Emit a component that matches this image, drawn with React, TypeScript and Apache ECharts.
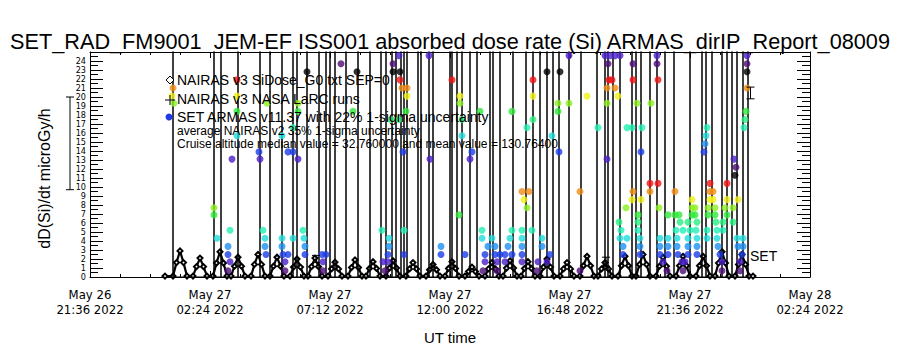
import React, { useEffect, useRef } from "react";
import * as echarts from "echarts";

// ---- axis ticks (hours since May 26 21:36 UT) ----
const xTickHours = [0, 4.8, 9.6, 14.4, 19.2, 24, 28.8];
const xTickLabels = [
  "May 26\n21:36 2022",
  "May 27\n02:24 2022",
  "May 27\n07:12 2022",
  "May 27\n12:00 2022",
  "May 27\n16:48 2022",
  "May 27\n21:36 2022",
  "May 28\n02:24 2022",
];
const yTickLabels = ["0","1","2","3","4","5","6","7","8","9","10","11","12","13","14","15","16","17","18","19","20","21","22","23","24"];

// ---- NAIRAS v3 SiDose (black diamonds) ----
const nairasHours = [
  3.00,
  3.32, 3.46, 3.60, 3.74, 3.88,
  4.12, 4.26, 4.40, 4.54, 4.68,
  4.92, 5.06, 5.20, 5.34, 5.48,
  5.64, 5.78, 5.92, 6.06, 6.20,
  6.44, 6.58, 6.72, 6.86, 7.00,
  7.20, 7.34, 7.48, 7.62, 7.76,
  8.00, 8.14, 8.28, 8.42, 8.56,
  8.72, 8.86, 9.00, 9.14, 9.28,
  9.52, 9.66, 9.80, 9.94, 10.08,
  10.32, 10.46, 10.60, 10.74, 10.88,
  11.04, 11.18, 11.32, 11.46, 11.60,
  11.84, 11.98, 12.12, 12.26, 12.40,
  12.64, 12.78, 12.92, 13.06, 13.20,
  13.44, 13.58, 13.72, 13.86, 14.00,
  14.20, 14.34, 14.48, 14.62, 14.76,
  15.00, 15.14, 15.28, 15.42, 15.56,
  15.80, 15.94, 16.08, 16.22, 16.36,
  16.52, 16.66, 16.80, 16.94, 17.08,
  17.24, 17.38, 17.52, 17.66, 17.80,
  18.00, 18.14, 18.28, 18.42, 18.56,
  18.80, 18.94, 19.08, 19.22, 19.36,
  19.60, 19.74, 19.88, 20.02, 20.16,
  20.32, 20.46, 20.60, 20.74, 20.88,
  21.12, 21.26, 21.40, 21.54, 21.68,
  21.84, 21.98, 22.12, 22.26, 22.40,
  22.64, 22.78, 22.92, 23.06, 23.20,
  23.44, 23.58, 23.72, 23.86, 24.00,
  24.24, 24.38, 24.52, 24.66, 24.80,
  25.00, 25.14, 25.28, 25.42, 25.56,
  25.80, 25.94, 26.08, 26.22, 26.36,
  26.52,
];
const nairasDose = [
  0.1,
  0.1, 1.6, 2.9, 1.6, 0.1,
  0.1, 1.15, 2.1, 1.15, 0.1,
  0.1, 1.55, 2.8, 1.55, 0.1,
  0.1, 1.2, 2.2, 1.2, 0.1,
  0.1, 1.4, 2.5, 1.4, 0.1,
  0.1, 1.2, 2.2, 1.2, 0.1,
  0.1, 1.1, 2.0, 1.1, 0.1,
  0.1, 1.15, 2.1, 1.15, 0.1,
  0.1, 0.9, 1.65, 0.9, 0.1,
  0.1, 1.05, 1.9, 1.05, 0.1,
  0.1, 0.95, 1.7, 0.95, 0.1,
  0.1, 1.0, 1.8, 1.0, 0.1,
  0.1, 0.9, 1.6, 0.9, 0.1,
  0.1, 0.8, 1.4, 0.8, 0.1,
  0.1, 0.95, 1.7, 0.95, 0.1,
  0.1, 0.6, 1.1, 0.6, 0.1,
  0.1, 0.9, 1.6, 0.9, 0.1,
  0.1, 1.0, 1.8, 1.0, 0.1,
  0.1, 0.95, 1.7, 0.95, 0.1,
  0.1, 1.1, 2.0, 1.1, 0.1,
  0.1, 0.9, 1.6, 0.9, 0.1,
  0.1, 1.25, 2.3, 1.25, 0.1,
  0.1, 0.9, 1.6, 0.9, 0.1,
  0.1, 1.25, 2.3, 1.25, 0.1,
  0.1, 1.4, 2.5, 1.4, 0.1,
  0.1, 1.2, 2.2, 1.2, 0.1,
  0.1, 1.25, 2.3, 1.25, 0.1,
  0.1, 1.25, 2.3, 1.25, 0.1,
  0.1, 1.55, 2.8, 1.55, 0.1,
  0.1, 1.4, 2.5, 1.4, 0.1,
  0.1,
];

// ---- SET ARMAS v11.37 measurements [hour, dose] ----
const armasPoints: [number, number][] = [
  [3.32, 21.0], [3.28, 20.1], [3.36, 19.3],
  [4.96, 7.7], [4.96, 6.9],
  [5.08, 4.3], [5.60, 5.2], [5.52, 3.4], [5.52, 2.5], [5.60, 1.7], [5.52, 0.7], [5.68, 13.1],
  [5.88, 21.9], [5.88, 20.1], [5.88, 18.4], [5.88, 15.7],
  [6.76, 13.9], [6.80, 13.1], [6.92, 5.2], [7.00, 4.3], [7.00, 3.4], [7.04, 2.5], [7.08, 19.3],
  [7.68, 15.7], [7.68, 4.3], [7.68, 3.4], [7.72, 2.5], [7.92, 2.5], [7.80, 1.7], [7.80, 0.7],
  [7.92, 13.9], [8.12, 13.9], [8.12, 16.6], [8.12, 4.3], [8.32, 18.4], [8.32, 19.3], [8.32, 13.1],
  [8.52, 5.2], [8.56, 4.3], [8.60, 3.4], [8.60, 2.5], [8.68, 22.8],
  [9.28, 2.5], [9.44, 2.5], [9.32, 1.7], [9.32, 0.7],
  [10.04, 23.7], [10.52, 18.4], [10.68, 22.8],
  [11.68, 5.2], [11.96, 4.3], [11.96, 3.4], [11.92, 2.5], [11.72, 1.7], [11.92, 1.7], [11.80, 0.7],
  [12.04, 17.5], [12.12, 23.7], [12.12, 22.8], [12.36, 24.6], [12.36, 17.5], [12.40, 22.8], [12.40, 21.9],
  [12.48, 21.0], [12.68, 21.0], [12.68, 20.1], [12.64, 18.4], [12.52, 13.9], [12.56, 5.2], [12.56, 2.5],
  [13.56, 24.6], [13.60, 13.1], [14.04, 3.4], [14.04, 2.5],
  [14.48, 21.9], [14.76, 6.9], [14.80, 20.1], [14.80, 19.3], [14.88, 17.5], [14.88, 15.7], [15.00, 2.5], [15.20, 13.1], [15.28, 13.9],
  [15.60, 18.4], [15.68, 5.2], [15.68, 4.3], [16.08, 4.3], [15.92, 3.4], [16.20, 3.4],
  [15.80, 2.5], [16.20, 2.5], [16.40, 2.5], [16.60, 2.5], [16.88, 2.5], [15.80, 1.7], [16.28, 1.7], [16.60, 1.7],
  [15.72, 0.7], [16.28, 0.7], [16.88, 5.2], [16.80, 4.3], [16.72, 3.4], [16.88, 18.4],
  [17.28, 9.5], [17.56, 9.5], [17.36, 8.6], [17.48, 7.7],
  [17.28, 5.2], [17.68, 5.2], [17.28, 4.3], [17.28, 3.4], [17.28, 2.5], [17.28, 1.7], [17.92, 1.7], [17.88, 0.7],
  [17.48, 16.6], [17.72, 17.5], [17.72, 21.9], [17.72, 20.1],
  [18.08, 4.3], [18.08, 3.4], [18.28, 22.8], [18.40, 2.5], [18.28, 1.7], [18.48, 15.7],
  [18.72, 19.3], [18.72, 18.4], [18.76, 13.9], [18.80, 22.8],
  [19.16, 24.6], [19.16, 19.3], [19.60, 9.5], [19.60, 0.7], [19.88, 20.1], [20.32, 16.6],
  [20.60, 24.6], [20.80, 24.6], [21.00, 24.6], [21.20, 24.6], [20.72, 23.7], [20.76, 21.9], [20.88, 21.9],
  [20.68, 21.0], [21.00, 21.0], [20.68, 19.3], [20.68, 13.1], [21.12, 20.1],
  [21.16, 6.1], [21.20, 4.3], [21.24, 5.2], [21.32, 3.4], [21.32, 2.5], [21.44, 7.7], [21.48, 16.6], [21.48, 4.3],
  [21.68, 16.6], [21.68, 8.6], [21.72, 23.7], [21.72, 21.9], [21.72, 9.5], [21.88, 19.3],
  [21.92, 6.9], [21.92, 6.1], [21.92, 5.2], [22.00, 4.3], [22.00, 3.4], [22.00, 2.5],
  [22.04, 13.9], [22.04, 8.6], [22.08, 16.6], [22.40, 10.4], [22.40, 9.5], [22.44, 19.3],
  [22.68, 24.6], [22.68, 23.7], [22.72, 21.9], [22.72, 10.4], [22.76, 7.7],
  [22.80, 4.3], [22.80, 3.4], [22.80, 2.5], [22.92, 1.7], [23.08, 0.7],
  [23.12, 6.9], [23.12, 4.3], [23.12, 3.4], [23.12, 2.5],
  [23.40, 9.5], [23.40, 6.9], [23.44, 5.2], [23.48, 4.3], [23.48, 3.4], [23.52, 2.5], [23.56, 6.9], [23.60, 6.1],
  [23.68, 1.7], [23.72, 5.2], [23.72, 0.7], [23.80, 1.7],
  [23.92, 6.1], [23.92, 4.3], [23.92, 3.4], [23.92, 2.5], [24.00, 5.2],
  [24.08, 8.6], [24.08, 7.7], [24.08, 6.9], [24.20, 7.7], [24.20, 6.9], [24.24, 5.2],
  [24.28, 6.1], [24.28, 4.3], [24.28, 3.4], [24.28, 2.5],
  [24.56, 13.9], [24.60, 14.8], [24.64, 15.7], [24.68, 16.6], [24.68, 5.2], [24.68, 4.3],
  [24.72, 7.7], [24.72, 6.9], [24.80, 10.4], [24.80, 9.5], [24.92, 9.5], [24.80, 8.6], [24.92, 8.6],
  [25.00, 7.7], [25.00, 6.9], [25.04, 6.1], [25.08, 5.2], [25.08, 4.3], [25.12, 3.4], [25.20, 2.5],
  [25.28, 1.7], [25.28, 0.7], [25.32, 6.1], [25.32, 5.2], [25.40, 7.7],
  [25.48, 10.4], [25.48, 8.6], [25.48, 6.9], [25.72, 7.7], [25.72, 6.1],
  [25.76, 13.1], [25.84, 12.2], [25.80, 11.3],
  [25.88, 4.3], [25.92, 8.6], [25.92, 3.4], [26.00, 1.7], [26.00, 0.7], [26.08, 2.5], [26.12, 4.3], [26.12, 3.4],
  [26.16, 16.6], [26.20, 17.5], [26.24, 18.4], [26.28, 21.0], [26.28, 22.8], [26.28, 23.7], [26.28, 24.6],
];

// ARMAS excursions that run off the top of the scale (hours)
const armasSpikeHours = [
  3.32, 4.96, 5.24, 5.92, 6.80, 7.20, 7.68, 8.12, 8.28, 8.68, 9.16, 9.44, 9.60, 9.80,
  10.24, 10.72, 11.20, 11.64, 11.84, 12.08, 12.24, 12.44, 12.56, 12.68, 13.12, 13.24,
  13.56, 13.72, 14.40, 14.48, 14.68, 14.88, 15.20, 15.48, 16.00, 16.12, 16.40, 16.92,
  17.44, 17.72, 18.00, 18.28, 18.52, 18.76, 19.16, 19.64, 20.28, 20.60, 20.72, 20.92,
  21.20, 21.68, 21.84, 22.04, 22.40, 22.68, 23.00, 23.36, 24.00, 24.48, 24.64, 24.88,
  25.28, 25.48, 25.68, 25.88, 26.12, 26.32,
];
const armasSpikeBase = 0;
const armasSpikeTop = 60;

// ---- NAIRAS v3 NASA LaRC runs: [hour, low, high] ----
const larcBars: [number, number, number][] = [
  [-0.8, 9.7, 20.0],
  [9.04, 1.6, 2.4],
  [20.64, 1.2, 2.2],
  [26.42, 19.8, 21.1],
];

const doseLevelStep = 0.883;
const palette = [
  "#000000", "#4c0c78", "#4a20c8", "#1c3ce6", "#1e90f0", "#20dcdc", "#20f0b4",
  "#28f080", "#30e838", "#8cf020", "#f0f018", "#f08c14", "#f01414",
];
function doseColor(v: number): string {
  const k = Math.round((v + 0.2) / doseLevelStep);
  return palette[((k % 13) + 13) % 13];
}

const NARROW = "'Liberation Sans Narrow', 'DejaVu Sans Condensed', 'Liberation Sans', sans-serif";
const SANS = "'Liberation Sans', 'DejaVu Sans', sans-serif";

export default function App() {
  const ref = useRef<HTMLDivElement>(null);
  useEffect(() => {
    if (!ref.current) return;
    const chart = echarts.init(ref.current, null, { renderer: "svg" });
    const trace: [number, number][] = [];
    armasSpikeHours.forEach((t) => {
      trace.push([t, armasSpikeBase], [t, armasSpikeTop], [t, armasSpikeBase]);
    });
    const axisLineStyle = { color: "#000", width: 1 };
    const legendFont = `14px ${SANS}`;
    const smallFont = `12px ${SANS}`;
    const option: any = {
      animation: false,
      backgroundColor: "#fff",
      grid: { left: 90, right: 90, top: 52, bottom: 72, containLabel: false },
      title: {
        text: "SET_RAD_FM9001  JEM-EF ISS001 absorbed dose rate (Si) ARMAS_dirIP_Report_08009",
        left: "center",
        top: 25,
        textStyle: { fontFamily: SANS, fontSize: 21.7, fontWeight: "normal", color: "#000" },
      },
      xAxis: [
        {
          type: "value", min: 0, max: 28.8, interval: 4.8, position: "bottom",
          axisLine: { show: true, onZero: false, lineStyle: axisLineStyle },
          axisTick: { show: true, inside: true, length: 6, lineStyle: axisLineStyle },
          minorTick: { show: true, splitNumber: 4, length: 3, lineStyle: axisLineStyle },
          splitLine: { show: false },
          axisLabel: {
            margin: 10, lineHeight: 15, fontFamily: NARROW, fontSize: 13, color: "#000",
            formatter: (v: number) => {
              const i = xTickHours.findIndex((h) => Math.abs(h - v) < 1e-6);
              return i >= 0 ? xTickLabels[i] : "";
            },
          },
          name: "UT time", nameLocation: "middle", nameGap: 53,
          nameTextStyle: { fontFamily: SANS, fontSize: 15, color: "#000" },
        },
        {
          type: "value", min: 0, max: 28.8, interval: 4.8, position: "top",
          axisLine: { show: true, onZero: false, lineStyle: axisLineStyle },
          axisTick: { show: true, inside: true, length: 6, lineStyle: axisLineStyle },
          minorTick: { show: true, splitNumber: 4, length: 3, lineStyle: axisLineStyle },
          splitLine: { show: false }, axisLabel: { show: false },
        },
      ],
      yAxis: [
        {
          type: "value", min: 0, max: 25, interval: 1, position: "left",
          axisLine: { show: true, onZero: false, lineStyle: axisLineStyle },
          axisTick: { show: true, inside: true, length: 13, lineStyle: axisLineStyle },
          minorTick: { show: true, splitNumber: 2, length: 8, lineStyle: axisLineStyle },
          splitLine: { show: false },
          axisLabel: {
            margin: 4, fontFamily: NARROW, fontSize: 9, lineHeight: 9, color: "#000",
            formatter: (v: number) => (v <= 24 ? yTickLabels[Math.round(v)] : ""),
          },
          name: "dD(Si)/dt microGy/h", nameLocation: "middle", nameGap: 38, nameRotate: 90,
          nameTextStyle: { fontFamily: SANS, fontSize: 16, color: "#000", padding: [0, 28, 0, 0] },
        },
        {
          type: "value", min: 0, max: 25, interval: 1, position: "right",
          axisLine: { show: true, onZero: false, lineStyle: axisLineStyle },
          axisTick: { show: true, inside: true, length: 13, lineStyle: axisLineStyle },
          minorTick: { show: true, splitNumber: 2, length: 8, lineStyle: axisLineStyle },
          splitLine: { show: false }, axisLabel: { show: false },
        },
      ],
      series: [
        {
          name: "NAIRAS v3 SiDose_G0 txt SEP=0",
          type: "line", xAxisIndex: 0, yAxisIndex: 0, z: 2,
          data: nairasHours.map((t, i) => [t, nairasDose[i]]),
          symbol: "emptyDiamond", symbolSize: 5, showSymbol: true,
          lineStyle: { color: "#000", width: 2.2 },
          itemStyle: { color: "#000", borderColor: "#000", borderWidth: 1 },
        },
        {
          name: "ARMAS trace",
          type: "line", xAxisIndex: 0, yAxisIndex: 0, z: 3,
          data: trace, showSymbol: false, symbol: "none",
          lineStyle: { color: "#000", width: 1 },
        },
        {
          name: "SET ARMAS v11.37",
          type: "scatter", xAxisIndex: 0, yAxisIndex: 0, z: 4,
          data: armasPoints, symbol: "circle", symbolSize: 7,
          itemStyle: { color: (p: any) => doseColor(p.value[1]) },
        },
        {
          name: "NAIRAS v3 NASA LaRC runs",
          type: "custom", xAxisIndex: 0, yAxisIndex: 0, z: 5, clip: false,
          data: larcBars,
          encode: { x: 0, y: [1, 2] },
          renderItem: (params: any, api: any) => {
            const t = api.value(0);
            const lo = api.coord([t, api.value(1)]);
            const hi = api.coord([t, api.value(2)]);
            const st = { stroke: "#000", lineWidth: 1 };
            return {
              type: "group",
              children: [
                { type: "line", shape: { x1: lo[0], y1: lo[1], x2: hi[0], y2: hi[1] }, style: st },
                { type: "line", shape: { x1: lo[0] - 4, y1: lo[1], x2: lo[0] + 4, y2: lo[1] }, style: st },
                { type: "line", shape: { x1: hi[0] - 4, y1: hi[1], x2: hi[0] + 4, y2: hi[1] }, style: st },
              ],
            };
          },
        },
      ],
      graphic: [
        { type: "polygon", shape: { points: [[170, 76], [174, 80], [170, 84], [166, 80]] }, style: { fill: "#fff", stroke: "#000", lineWidth: 1 }, z: 10 },
        { type: "line", shape: { x1: 165, y1: 100, x2: 175, y2: 100 }, style: { stroke: "#000", lineWidth: 1 }, z: 10 },
        { type: "line", shape: { x1: 170, y1: 95, x2: 170, y2: 105 }, style: { stroke: "#000", lineWidth: 1 }, z: 10 },
        { type: "circle", shape: { cx: 169, cy: 117, r: 3.5 }, style: { fill: "#1c3ce6" }, z: 10 },
        { type: "text", x: 177, y: 80, style: { text: "NAIRAS v3 SiDose_G0 txt SEP=0", font: legendFont, lineHeight: 14, fill: "#000", verticalAlign: "middle" }, z: 10 },
        { type: "text", x: 177, y: 99, style: { text: "NAIRAS v3 NASA LaRC runs", font: legendFont, lineHeight: 14, fill: "#000", verticalAlign: "middle" }, z: 10 },
        { type: "text", x: 177, y: 117, style: { text: "SET ARMAS v11.37 with 22% 1-sigma uncertainty", font: legendFont, lineHeight: 14, fill: "#000", verticalAlign: "middle" }, z: 10 },
        { type: "text", x: 177, y: 131, style: { text: "average NAIRAS v2 35% 1-sigma uncertainty", font: smallFont, lineHeight: 12, fill: "#000", verticalAlign: "middle" }, z: 10 },
        { type: "text", x: 177, y: 144, style: { text: "Cruise altitude median value = 32.760000 and mean value = 130.76400", font: smallFont, lineHeight: 12, fill: "#000", verticalAlign: "middle" }, z: 10 },
        { type: "text", x: 750, y: 256, style: { text: "SET", font: legendFont, fill: "#000", verticalAlign: "middle" }, z: 10 },
      ],
    };
    chart.setOption(option);
    return () => chart.dispose();
  }, []);
  return (
    <div
      ref={ref}
      style={{ position: "fixed", left: 0, top: 0, width: 900, height: 350, background: "#fff" }}
    />
  );
}
